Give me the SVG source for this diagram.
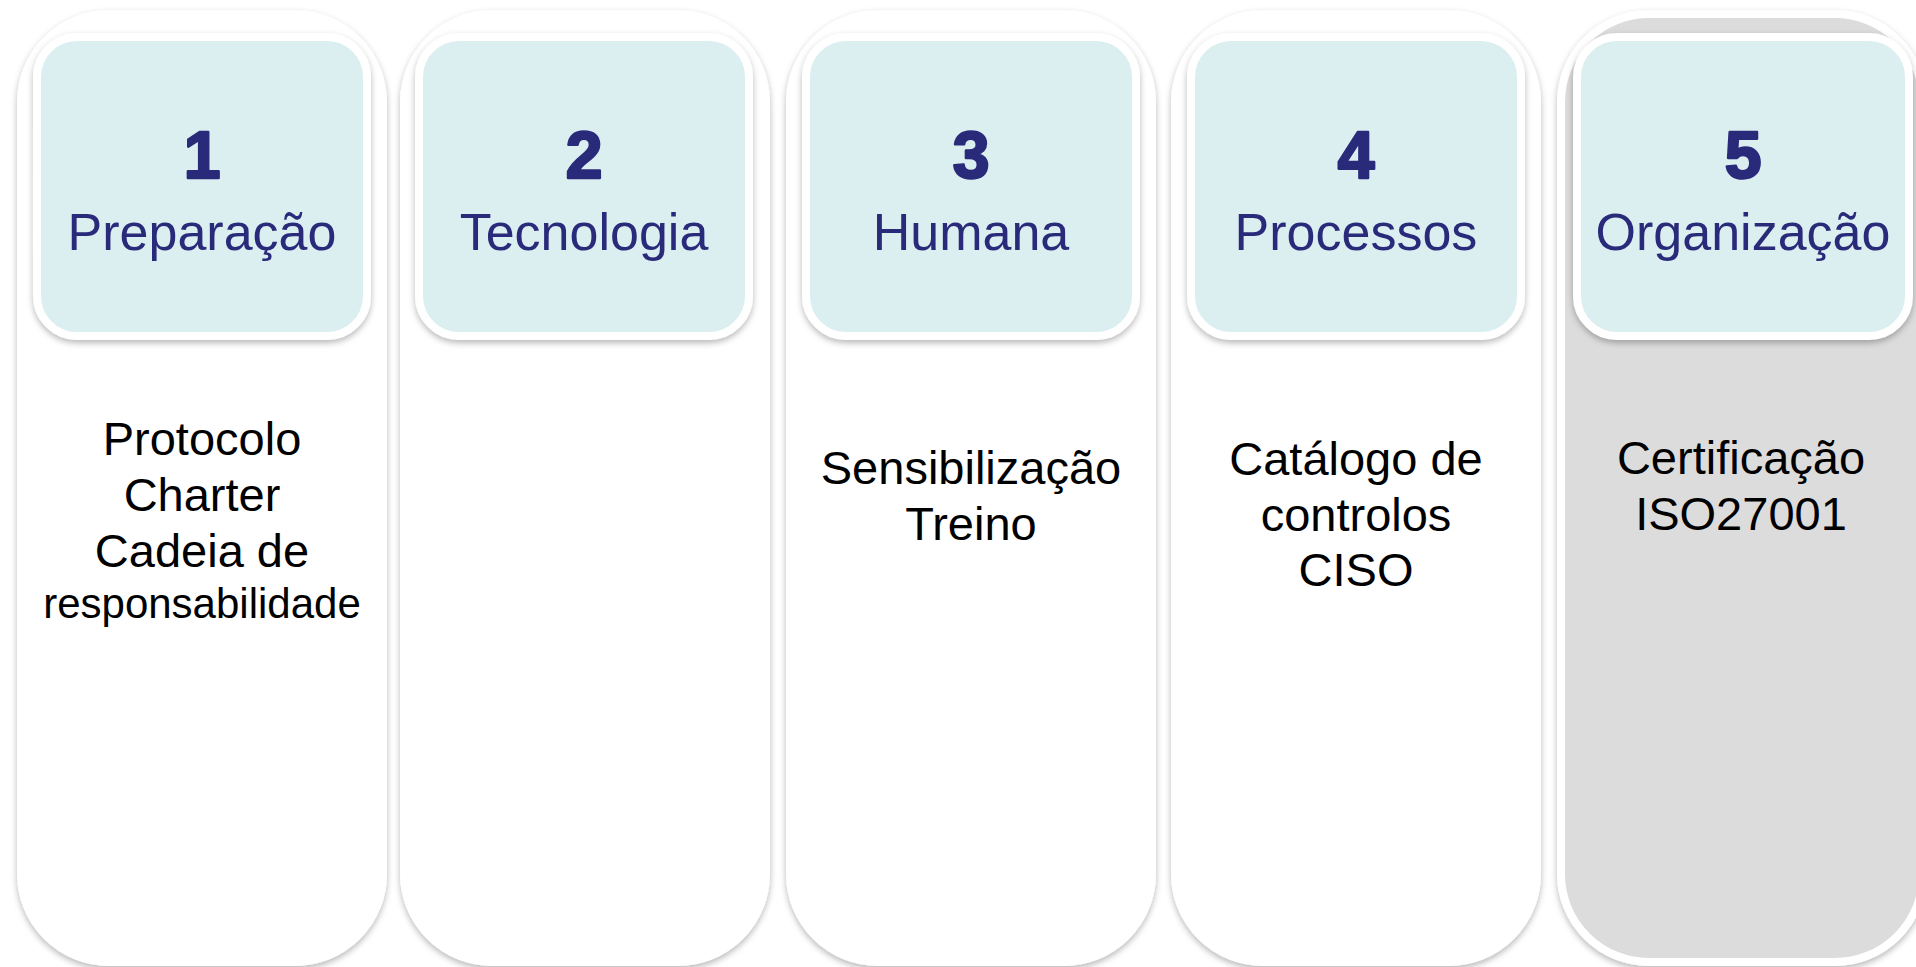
<svg xmlns="http://www.w3.org/2000/svg" width="1916" height="967" viewBox="0 0 1916 967">
<defs>
<filter id="sh" x="-10%" y="-10%" width="120%" height="120%">
<feDropShadow dx="0" dy="3" stdDeviation="3" flood-color="#000" flood-opacity="0.28"/>
</filter>
</defs>
<style>
.card{fill:#ffffff;stroke:#ffffff;stroke-width:8;filter:url(#sh)}
.card5{fill:#dcdcdc;stroke:#ffffff;stroke-width:8;filter:url(#sh)}
.head{fill:#dbeef0;stroke:#ffffff;stroke-width:8;filter:url(#sh)}
.num{font-family:"Liberation Sans",Arial,sans-serif;font-weight:bold;font-size:66px;fill:#2a2a7a;stroke:#2a2a7a;stroke-width:2.5;stroke-linejoin:round;text-anchor:middle}
.ttl{font-family:"Liberation Sans",Arial,sans-serif;font-size:52px;fill:#2a2a7a;text-anchor:middle}
.body{font-family:"Liberation Sans",Arial,sans-serif;font-size:47px;fill:#000000;text-anchor:middle}
.small{font-size:42px}
</style>
<rect width="1916" height="967" fill="#ffffff"/>
<g id="connectors"></g>
<g id="col1">
<rect class="card" x="21" y="14" width="362" height="948" rx="88" ry="88"/>
<rect class="head" x="37" y="37" width="330" height="299" rx="40" ry="40"/>
<text class="num" x="202" y="178">1</text>
<text class="ttl" x="202" y="250">Preparação</text>
<text class="body" x="202" y="455">Protocolo</text>
<text class="body" x="202" y="511">Charter</text>
<text class="body" x="202" y="567">Cadeia de</text>
<text class="body small" x="202" y="618">responsabilidade</text>
</g>
<g id="col2">
<rect class="card" x="404" y="14" width="362" height="948" rx="88" ry="88"/>
<rect class="head" x="419" y="37" width="330" height="299" rx="40" ry="40"/>
<text class="num" x="584" y="178">2</text>
<text class="ttl" x="584" y="250">Tecnologia</text>
</g>
<g id="col3">
<rect class="card" x="790" y="14" width="362" height="948" rx="88" ry="88"/>
<rect class="head" x="806" y="37" width="330" height="299" rx="40" ry="40"/>
<text class="num" x="971" y="178">3</text>
<text class="ttl" x="971" y="250">Humana</text>
<text class="body" x="971" y="484">Sensibilização</text>
<text class="body" x="971" y="540">Treino</text>
</g>
<g id="col4">
<rect class="card" x="1175" y="14" width="362" height="948" rx="88" ry="88"/>
<rect class="head" x="1191" y="37" width="330" height="299" rx="40" ry="40"/>
<text class="num" x="1356" y="178">4</text>
<text class="ttl" x="1356" y="250">Processos</text>
<text class="body" x="1356" y="475">Catálogo de</text>
<text class="body" x="1356" y="531">controlos</text>
<text class="body" x="1356" y="586">CISO</text>
</g>
<g id="col5">
<rect class="card5" x="1561" y="14" width="362" height="948" rx="88" ry="88"/>
<rect class="head" x="1577" y="37" width="332" height="299" rx="40" ry="40"/>
<text class="num" x="1743" y="178">5</text>
<text class="ttl" x="1743" y="250">Organização</text>
<text class="body" x="1741" y="474">Certificação</text>
<text class="body" x="1741" y="530">ISO27001</text>
</g>
</svg>
